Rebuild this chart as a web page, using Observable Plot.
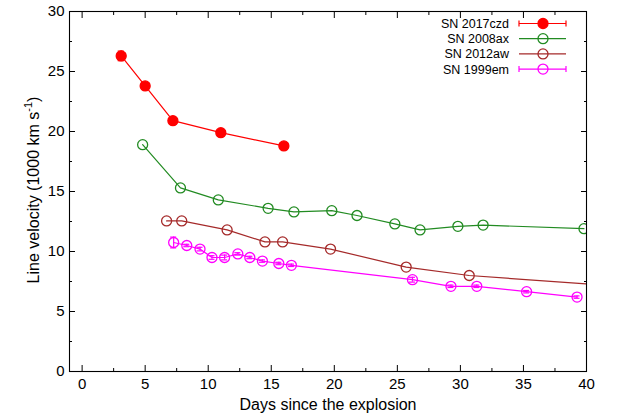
<!DOCTYPE html>
<html><head><meta charset="utf-8">
<script src="https://cdn.jsdelivr.net/npm/d3@7"></script>
<script src="https://cdn.jsdelivr.net/npm/@observablehq/plot@0.6"></script>
<style>
body{margin:0;background:#fff}
svg{font-family:"Liberation Sans",Arial,sans-serif}
</style>
</head><body><div id="chart"></div>
<script>
// ---------- data ----------
const seriesNames = ["SN 2017czd", "SN 2008ax", "SN 2012aw", "SN 1999em"];
const seriesColors = ["#ff0000", "#228b22", "#a52a2a", "#ff00ff"];

const sn2017czdDays = [3.1, 5.0, 7.2, 11.0, 16.0];
const sn2017czdVel  = [26.3, 23.8, 20.9, 19.9, 18.8];
const sn2017czdErr  = [0.4, 0.25, 0.2, 0.2, 0.25];

const sn2008axDays = [4.8, 7.8, 10.8, 14.75, 16.8, 19.8, 21.8, 24.8, 26.8, 29.8, 31.8, 39.8];
const sn2008axVel  = [18.9, 15.3, 14.3, 13.6, 13.3, 13.4, 13.0, 12.3, 11.8, 12.1, 12.2, 11.9];

const sn2012awDays = [6.7, 7.9, 11.5, 14.5, 15.9, 19.7, 25.7, 30.7, 44];
const sn2012awVel  = [12.55, 12.55, 11.8, 10.8, 10.8, 10.2, 8.7, 8.0, 7.0];

const sn1999emDays = [7.26, 8.3, 9.35, 10.3, 11.3, 12.35, 13.3, 14.3, 15.6, 16.6, 26.2, 29.25, 31.3, 35.25, 39.25];
const sn1999emVel  = [10.75, 10.5, 10.2, 9.5, 9.5, 9.8, 9.5, 9.2, 9.0, 8.85, 7.65, 7.1, 7.1, 6.65, 6.2];
const sn1999emErr  = [0.45, 0.1, 0.15, 0.15, 0.2, 0.1, 0.1, 0.1, 0.1, 0.1, 0.2, 0.1, 0.1, 0.1, 0.1];

const xMajorTicks = [0, 5, 10, 15, 20, 25, 30, 35, 40];
const xMinorTicks = [2.5, 7.5, 12.5, 17.5, 22.5, 27.5, 32.5, 37.5];
const yMajorTicks = [0, 5, 10, 15, 20, 25, 30];
const yMinorTicks = [2.5, 7.5, 12.5, 17.5, 22.5, 27.5];

const xLabel = "Days since the explosion";
const yLabelMain = "Line velocity (1000 km s";
const yLabelSup = "-1";
const yLabelEnd = ")";

// ---------- tables ----------
const mk = (days, vel, err, name) => days.map((d, i) => ({day: d, vel: vel[i], err: err ? err[i] : 0, name}));
const tables = [
  mk(sn2017czdDays, sn2017czdVel, sn2017czdErr, seriesNames[0]),
  mk(sn2008axDays, sn2008axVel, null, seriesNames[1]),
  mk(sn2012awDays, sn2012awVel, null, seriesNames[2]),
  mk(sn1999emDays, sn1999emVel, sn1999emErr, seriesNames[3])
];
const hasErr = [true, false, false, true];
const filled = [true, false, false, false];

const seriesMarks = [];
[1, 2, 3, 0].forEach(i => {
  const data = tables[i], c = seriesColors[i];
  seriesMarks.push(Plot.line(data, {x: "day", y: "vel", stroke: c, strokeWidth: 1.2, clip: true}));
  if (hasErr[i]) {
    seriesMarks.push(Plot.ruleX(data, {x: "day", y1: d => d.vel - d.err, y2: d => d.vel + d.err, stroke: c, strokeWidth: 1.2}));
    seriesMarks.push(Plot.ruleY(data, {y: d => d.vel - d.err, x1: "day", x2: "day", insetLeft: -3, insetRight: -3, stroke: c, strokeWidth: 1.2}));
    seriesMarks.push(Plot.ruleY(data, {y: d => d.vel + d.err, x1: "day", x2: "day", insetLeft: -3, insetRight: -3, stroke: c, strokeWidth: 1.2}));
  }
  seriesMarks.push(Plot.dot(data, {x: "day", y: "vel", r: 5, stroke: c, strokeWidth: 1.3, fill: filled[i] ? c : "none", clip: true}));
});

const plot = Plot.plot({
  width: 621, height: 418,
  marginLeft: 69, marginRight: 35, marginTop: 11, marginBottom: 47,
  style: {fontFamily: "Liberation Sans, Arial, sans-serif", fontSize: "15px", background: "white", color: "black"},
  x: {domain: [-1, 40]},
  y: {domain: [0, 30]},
  marks: [
    Plot.axisX(xMajorTicks, {anchor: "bottom", tickSize: -6, tickPadding: 13, label: null, tickFormat: d => String(d)}),
    Plot.axisX(xMinorTicks, {anchor: "bottom", tickSize: -3, fill: "none", label: null}),
    Plot.axisX(xMajorTicks, {anchor: "top", tickSize: -6, fill: "none", label: null}),
    Plot.axisX(xMinorTicks, {anchor: "top", tickSize: -3, fill: "none", label: null}),
    Plot.axisY(yMajorTicks, {anchor: "left", tickSize: -6, tickPadding: 11, label: null, tickFormat: d => String(d)}),
    Plot.axisY(yMinorTicks, {anchor: "left", tickSize: -3, fill: "none", label: null}),
    Plot.axisY(yMajorTicks, {anchor: "right", tickSize: -6, fill: "none", label: null}),
    Plot.axisY(yMinorTicks, {anchor: "right", tickSize: -3, fill: "none", label: null}),
    ...seriesMarks,
    Plot.frame({stroke: "black", strokeWidth: 1.1}),
    Plot.text([xLabel], {text: d => d, frameAnchor: "bottom", dy: 27, lineAnchor: "top", fontSize: 16})
  ]
});
document.getElementById("chart").appendChild(plot);

// ---------- y label with superscript ----------
const svg = d3.select(plot);
const yl = svg.append("text")
  .attr("transform", "translate(39,190) rotate(-90)")
  .attr("text-anchor", "middle")
  .attr("font-size", 16)
  .attr("fill", "black");
yl.append("tspan").text(yLabelMain);
yl.append("tspan").attr("font-size", 11).attr("dy", -7).text(yLabelSup);
yl.append("tspan").attr("dy", 7).text(yLabelEnd);

// ---------- legend ----------
const lg = svg.append("g").attr("font-size", 12.5);
seriesNames.forEach((name, i) => {
  const y = 23.5 + 15.2 * i, c = seriesColors[i];
  const g = lg.append("g");
  g.append("text").attr("x", 509).attr("y", y).attr("dy", "0.36em").attr("text-anchor", "end").attr("fill", "black").text(name);
  g.append("line").attr("x1", 519).attr("x2", 566).attr("y1", y).attr("y2", y).attr("stroke", c).attr("stroke-width", 1.2);
  if (hasErr[i]) {
    [519, 566].forEach(x => g.append("line").attr("x1", x).attr("x2", x).attr("y1", y - 3).attr("y2", y + 3).attr("stroke", c).attr("stroke-width", 1.2));
  }
  g.append("circle").attr("cx", 543).attr("cy", y).attr("r", 5).attr("stroke", c).attr("stroke-width", 1.3).attr("fill", filled[i] ? c : "none");
});
</script>
</body></html>
